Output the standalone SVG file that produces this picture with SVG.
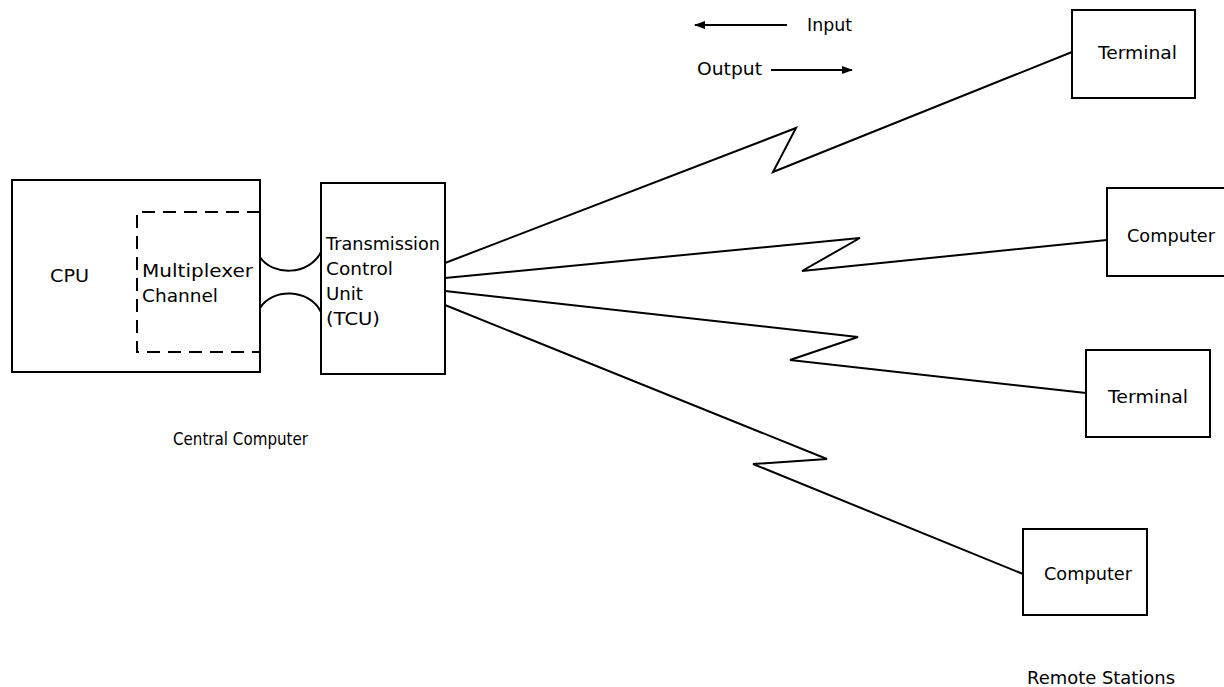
<svg xmlns="http://www.w3.org/2000/svg" width="1224" height="687" viewBox="0 0 1224 687">
<style>
.box{fill:none;stroke:#000;stroke-width:2}
.dash{fill:none;stroke:#000;stroke-width:2;stroke-dasharray:13 8}
.ln{fill:none;stroke:#000;stroke-width:2;stroke-linejoin:miter}
text{font-family:"DejaVu Sans","Liberation Sans",sans-serif;font-size:18px;fill:#000}
</style>
<defs>
<marker id="ah" viewBox="0 0 11 8" refX="10" refY="4" markerWidth="11" markerHeight="8" markerUnits="userSpaceOnUse" orient="auto">
<path d="M0,0 L11,4 L0,8 Z" fill="#000"/>
</marker>
</defs>
<rect width="1224" height="687" fill="#fff"/>
<g id="cpu">
<rect class="box" x="12" y="180" width="248" height="192"/>
<text x="50" y="282" textLength="39" lengthAdjust="spacingAndGlyphs">CPU</text>
</g>
<g id="mux">
<path class="dash" d="M260,212 H137 V352 H260"/>
<text x="142" y="277" textLength="111" lengthAdjust="spacingAndGlyphs">Multiplexer</text>
<text x="142" y="302" textLength="76" lengthAdjust="spacingAndGlyphs">Channel</text>
</g>
<g id="tcu">
<rect class="box" x="321" y="183" width="124" height="191"/>
<text x="326" y="250" textLength="114" lengthAdjust="spacingAndGlyphs">Transmission</text>
<text x="326" y="275" textLength="67" lengthAdjust="spacingAndGlyphs">Control</text>
<text x="326" y="300" textLength="37" lengthAdjust="spacingAndGlyphs">Unit</text>
<text x="326" y="325" textLength="54" lengthAdjust="spacingAndGlyphs">(TCU)</text>
</g>
<g id="central-label">
<text x="173" y="445" textLength="135" lengthAdjust="spacingAndGlyphs">Central Computer</text>
</g>
<g id="terminal1">
<rect class="box" x="1072" y="10" width="123" height="88"/>
<text x="1098" y="59" textLength="79" lengthAdjust="spacingAndGlyphs">Terminal</text>
</g>
<g id="computer2">
<rect class="box" x="1107" y="188" width="125" height="88"/>
<text x="1127" y="242" textLength="88" lengthAdjust="spacingAndGlyphs">Computer</text>
</g>
<g id="terminal3">
<rect class="box" x="1086" y="350" width="124" height="87"/>
<text x="1108" y="403" textLength="80" lengthAdjust="spacingAndGlyphs">Terminal</text>
</g>
<g id="computer4">
<rect class="box" x="1023" y="529" width="124" height="86"/>
<text x="1044" y="580" textLength="88" lengthAdjust="spacingAndGlyphs">Computer</text>
</g>
<g id="remote-label">
<text x="1027" y="684" textLength="148" lengthAdjust="spacingAndGlyphs">Remote Stations</text>
</g>
<g id="legend">
<line class="ln" x1="787" y1="25" x2="695" y2="25" marker-end="url(#ah)"/>
<text x="807" y="31" textLength="45" lengthAdjust="spacingAndGlyphs">Input</text>
<text x="697" y="75" textLength="65" lengthAdjust="spacingAndGlyphs">Output</text>
<line class="ln" x1="771" y1="70" x2="852" y2="70" marker-end="url(#ah)"/>
</g>
<g id="connectors">
<path class="ln" d="M260,257 C272,276 309,276 321,252"/>
<path class="ln" d="M260,308 C272,288 309,288 321,312"/>
<polyline class="ln" points="445,263 796,128 773,172 1072,52"/>
<polyline class="ln" points="445,278 860,238 802,271 1107,240"/>
<polyline class="ln" points="445,291 858,337 790,360 1086,393"/>
<polyline class="ln" points="445,305 827,459 753,464 1023,574"/>
</g>
</svg>
